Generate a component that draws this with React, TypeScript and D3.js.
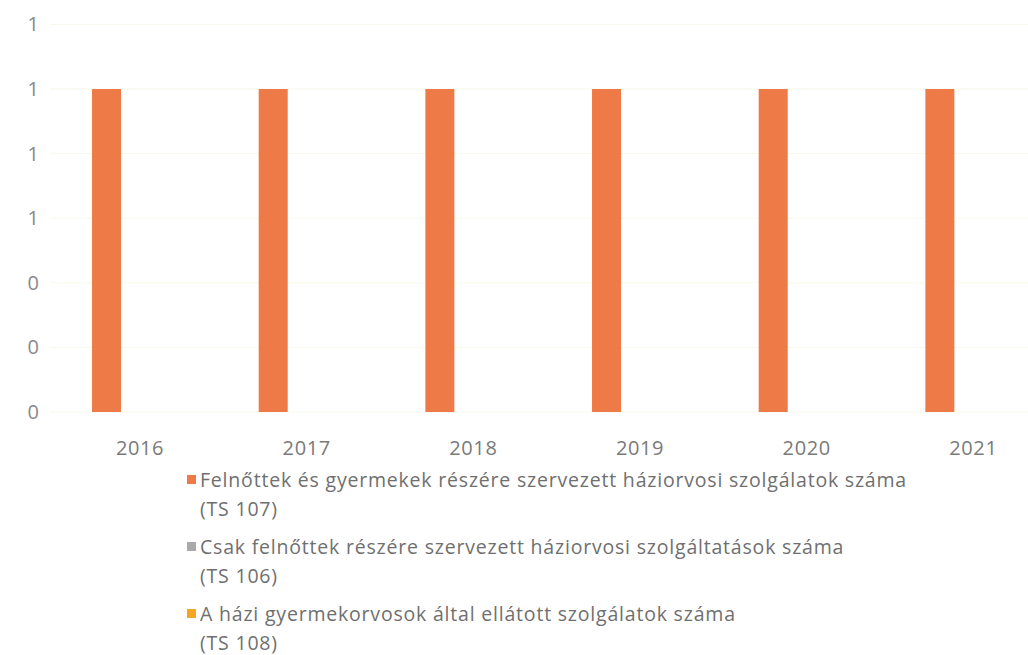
import * as d3 from "d3";

const years = ["2016", "2017", "2018", "2019", "2020", "2021"];
const seriesNames = ["TS 107", "TS 106", "TS 108"];
const ts107 = [1, 1, 1, 1, 1, 1];
const ts106 = [0, 0, 0, 0, 0, 0];
const ts108 = [0, 0, 0, 0, 0, 0];
const yTicks = [0, 0.2, 0.4, 0.6, 0.8, 1, 1.2];
const legendLines = [
  ["Felnőttek és gyermekek részére szervezett háziorvosi szolgálatok száma", "(TS 107)"],
  ["Csak felnőttek részére szervezett háziorvosi szolgáltatások száma", "(TS 106)"],
  ["A házi gyermekorvosok által ellátott szolgálatok száma", "(TS 108)"],
];
const colors = ["#ee7b47", "#a9a9a9", "#f5a623"];

export default function App() {
  const width = 1028;
  const height = 655;
  const values = [ts107, ts106, ts108];

  const x = d3.scaleBand().domain(years).range([56.7, 1056.7]);
  const inner = d3
    .scaleBand()
    .domain(seriesNames)
    .range([x.bandwidth() / 2 - 50.25, x.bandwidth() / 2 + 50.25])
    .paddingInner(0.134)
    .paddingOuter(0.067);
  const y = d3.scaleLinear().domain([0, 1.2]).range([412, 24.4]);
  const fmt = d3.format(".0f");
  const font = "'Open Sans', sans-serif";

  return (
    <svg
      width={width}
      height={height}
      style={{ position: "absolute", left: 0, top: 0, background: "#fff" }}
      fontFamily={font}
    >
      {yTicks.map((t) => (
        <g key={t}>
          <line x1={50} x2={1028} y1={y(t)} y2={y(t)} stroke="#f8f8ec" strokeWidth={1} />
          <text x={39} y={y(t) + 7} textAnchor="end" fontSize={20} fill="#8a8a8a">
            {fmt(t)}
          </text>
        </g>
      ))}

      {years.map((yr, i) => (
        <g key={yr} transform={`translate(${x(yr)},0)`}>
          {seriesNames.map((s, j) => (
            <rect
              key={s}
              x={inner(s)}
              y={y(values[j][i])}
              width={inner.bandwidth()}
              height={y(0) - y(values[j][i])}
              fill={colors[j]}
            />
          ))}
          <text
            x={x.bandwidth() / 2}
            y={455}
            textAnchor="middle"
            fontSize={20}
            fill="#7a7a7a"
            letterSpacing={0.6}
          >
            {yr}
          </text>
        </g>
      ))}

      {legendLines.map((lines, i) => (
        <g key={i} transform={`translate(0, ${480 + i * 67})`}>
          <rect x={187} y={-5} width={9} height={9} fill={colors[i]} />
          <text x={200} y={7} fontSize={19.5} fill="#6f6f6f" letterSpacing={0.8}>
            {lines[0]}
          </text>
          <text x={200} y={36} fontSize={19.5} fill="#6f6f6f" letterSpacing={0.8}>
            {lines[1]}
          </text>
        </g>
      ))}
    </svg>
  );
}
